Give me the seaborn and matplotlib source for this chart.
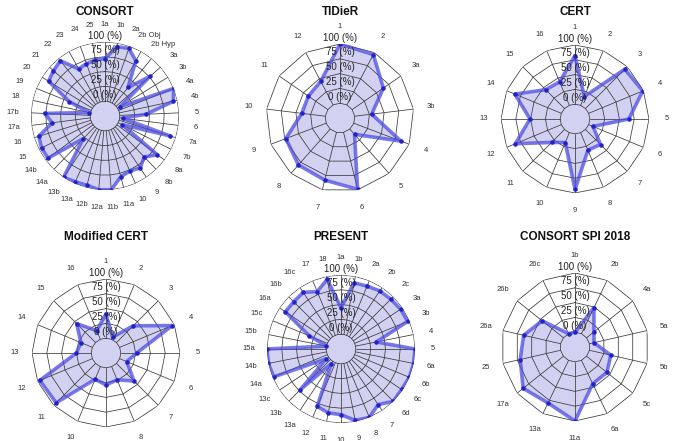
import numpy as np
import pandas as pd
import matplotlib
matplotlib.use("Agg")
import matplotlib.pyplot as plt
import seaborn as sns

sns.set_theme(style="white")
plt.rcParams['font.family'] = ['Liberation Sans', 'DejaVu Sans']

# ---------------- data ----------------
consort_labels = ["1a", "1b", "2a", "2b Obj", "2b Hyp", "3a", "3b", "4a", "4b", "5", "6",
                  "7a", "7b", "8a", "8b", "9", "10", "11a", "11b", "12a", "12b", "13a",
                  "13b", "14a", "14b", "15", "16", "17a", "17b", "18", "19", "20", "21",
                  "22", "23", "24", "25"]
consort_values = [72, 94, 96, 82, 37, 76, 5, 100, 93, 45, 5,
                  90, 8, 85, 71, 81, 77, 81, 100, 100, 96, 97,
                  100, 28, 95, 95, 92, 65, 77, 3, 40, 87, 91,
                  95, 66, 69, 71]

tidier_labels = ["1", "2", "3a", "3b", "4", "5", "6", "7", "8", "9", "10", "11", "12"]
tidier_values = [100, 96, 64, 29, 85, 12, 99, 83, 81, 73, 40, 40, 45]

cert_labels = [str(i) for i in range(1, 17)]
cert_values = [82, 16, 94, 99, 66, 8, 36, 32, 94, 18, 31, 84, 51, 85, 45, 43]

mcert_labels = [str(i) for i in range(1, 17)]
mcert_values = [41, 4, 40, 96, 27, 13, 42, 24, 29, 23, 94, 96, 25, 21, 45, 16]

present_labels = ["1a", "1b", "2a", "2b", "2c", "3a", "3b", "4", "5", "6a", "6b", "6c",
                  "6d", "7", "8", "9", "10", "11", "12", "13a", "13b", "13c", "14a",
                  "14b", "15a", "15b", "15c", "16a", "16b", "16c", "17", "18"]
present_values = [45, 89, 90, 93, 94, 96, 97, 36, 100, 100, 100, 98,
                  100, 88, 100, 98, 86, 85, 80, 5, 73, 5, 98,
                  100, 100, 0, 33, 88, 88, 90, 80, 95]

spi_labels = ["1b", "2b", "4a", "5a", "5b", "5c", "6a", "11a", "13a", "17a", "25",
              "26a", "26b", "26c"]
spi_values = [0, 49, 16, 8, 37, 44, 44, 100, 80, 87, 70, 64, 46, 0]

charts = [
    ("CONSORT", consort_labels, consort_values, (105, 116)),
    ("TIDieR", tidier_labels, tidier_values, (340, 118)),
    ("CERT", cert_labels, cert_values, (575, 119)),
    ("Modified CERT", mcert_labels, mcert_values, (106, 353)),
    ("PRESENT", present_labels, present_values, (341, 349)),
    ("CONSORT SPI 2018", spi_labels, spi_values, (575, 347)),
]
title_y = [12, 12, 12, 237, 237, 237]
level_vals = [0, 25, 50, 75, 100]

W, H = 680, 441
R = 74
fig = plt.figure(figsize=(W / 100, H / 100), dpi=100)

line_col = "#4c4ce0"
fill_col = "#d3d1f2"
grid_col = "#3a3a3a"

for (title, labels, values, (cx, cy)), ty in zip(charts, title_y):
    ax = fig.add_axes([(cx - R) / W, (H - cy - R) / H, 2 * R / W, 2 * R / H],
                      projection="polar")
    ax.set_theta_zero_location("N")
    ax.set_theta_direction(-1)
    ax.set_ylim(0, 1)
    ax.axis("off")
    n = len(labels)
    th = np.arange(n) * 2 * np.pi / n
    thc = np.append(th, th[0])
    r = 0.2 + 0.8 * np.array(values) / 100.0
    rc = np.append(r, r[0])
    tt = np.linspace(0, 2 * np.pi, 100)
    ax.fill(tt, np.full_like(tt, 0.2), color=fill_col, lw=0, zorder=1)
    ax.fill(thc, rc, color=fill_col, lw=0, zorder=1)
    for lv in level_vals:
        rr = 0.2 + 0.8 * lv / 100
        ax.plot(thc, np.full_like(thc, rr), color=grid_col, lw=0.55, zorder=2)
    for t in th:
        ax.plot([t, t], [0.2, 1.0], color=grid_col, lw=0.55, zorder=2)
    df = pd.DataFrame({"theta": thc, "r": rc})
    sns.lineplot(data=df, x="theta", y="r", ax=ax, sort=False, color=line_col,
                 lw=2.6, alpha=0.75, zorder=3, estimator=None)
    ax.scatter(th, r, s=5, color="#2222cc", zorder=4)
    ax.set_xlabel("")
    ax.set_ylabel("")
    for lv in level_vals:
        rr = 0.2 + 0.8 * lv / 100
        ax.text(0, rr + 0.02, f"{lv} (%)", ha="center", va="bottom", fontsize=7,
                color="#222222", zorder=5)
    for t, lab in zip(th, labels):
        ax.text(t, 1.24, lab, ha="center", va="center", fontsize=5.5,
                color="#333333", clip_on=False)
    fig.text(cx / W, 1 - ty / H, title, ha="center", va="center",
             fontsize=8.5, fontweight="bold", color="#111111")

fig.savefig("out.png", dpi=100)
